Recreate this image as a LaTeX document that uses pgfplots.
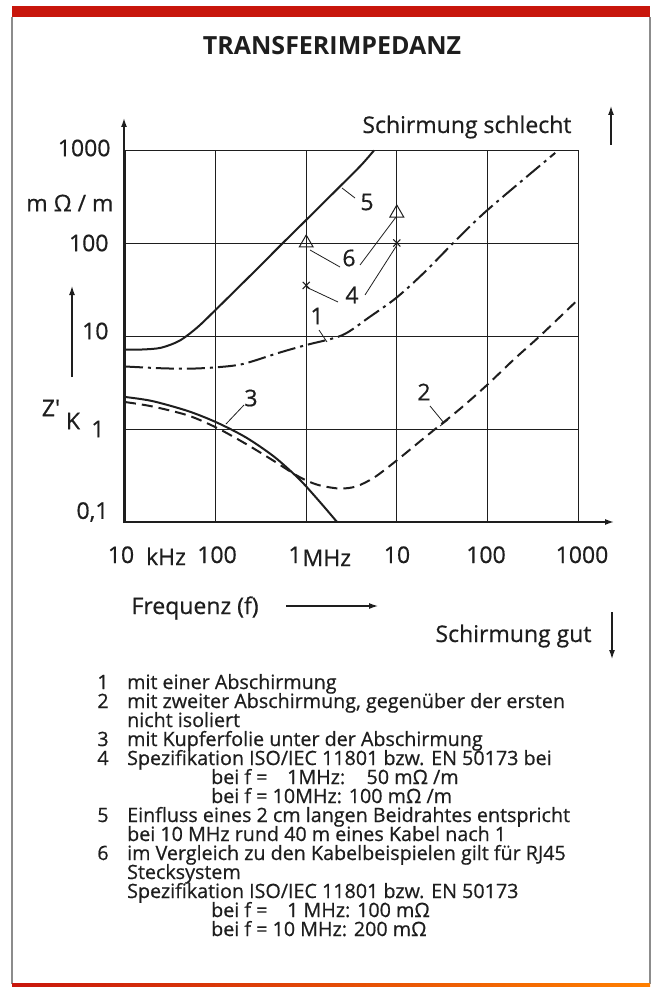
\documentclass[border=0pt]{standalone}
\usepackage{pgfplots}
\pgfplotsset{compat=1.18}
\usepackage{fontspec}
\setmainfont{Open Sans}
\newfontfamily\heavy{Open Sans}[FakeBold=0.6]
\usetikzlibrary{arrows.meta}
\definecolor{barred}{RGB}{200,22,12}
\definecolor{framegray}{RGB}{140,140,140}
\definecolor{ink}{RGB}{30,30,30}
\begin{document}
\begin{tikzpicture}
\begin{axis}[at={(125pt,-522pt)}, anchor=south west, scale only axis,
  width=453pt, height=372pt, xmode=log, ymode=log,
  xmin=1e4, xmax=1e9, ymin=0.1, ymax=1000,
  axis line style={draw=none},
  xtick={1e4,1e5,1e6,1e7,1e8,1e9}, ytick={0.1,1,10,100,1000},
  xticklabels={}, yticklabels={}, tick style={draw=none},
  grid=major, grid style={ink, line width=0.9pt},
  clip=false]
% curve 5
\addplot[ink, line width=2pt, smooth, tension=0.5] coordinates {
 (1e4,7.12) (1.6e4,7.17) (2.5e4,7.48) (4e4,8.9) (6.3e4,12.4) (1e5,19.1) (1.6e5,30) (3e5,55) (5.3e5,96) (1e6,177) (2e6,346) (4e6,680) (5.6e6,990)};
% curve 1
\addplot[ink, line width=2pt, smooth, tension=0.5, dash pattern=on 18pt off 5pt on 3pt off 5pt] coordinates {
 (1e4,4.7) (2.5e4,4.5) (5e4,4.45) (1e5,4.6) (2e5,5.0) (5e5,6.6) (1e6,8.0) (2.5e6,10.2) (5e6,16) (1e7,26) (2e7,48) (4.2e7,100) (1e8,226) (5.6e8,930)};
% curve 2
\addplot[ink, line width=2pt, smooth, tension=0.5, dash pattern=on 11pt off 6pt] coordinates {
 (1e4,1.95) (1.99e4,1.75) (4.95e4,1.40) (1.03e5,1.03) (2.17e5,0.69) (4.4e5,0.453) (7.7e5,0.32) (1.1e6,0.269) (1.5e6,0.244) (2.36e6,0.229) (3.55e6,0.241) (5.6e6,0.30) (1e7,0.46) (2e7,0.8) (5e7,1.65) (1e8,3.0) (2e8,5.7) (3.8e8,10) (9.3e8,23)};
% curve 3
\addplot[ink, line width=2pt, smooth, tension=0.5] coordinates {
 (1e4,2.21) (1.99e4,2.0) (4.95e4,1.56) (1.03e5,1.175) (2.17e5,0.81) (4.4e5,0.506) (7.7e5,0.313) (1e6,0.241) (1.5e6,0.154) (2.19e6,0.1)};
% RJ45 triangles (6)
\addplot[only marks, mark=triangle, mark size=8pt, mark options={ink, line width=1pt}] coordinates {(1e6,100) (1e7,210)};
% spec crosses (4)
\addplot[only marks, mark=x, mark size=5pt, mark options={ink, line width=1pt}] coordinates {(1e6,35) (1e7,100)};
\end{axis}

\begin{scope}[x=1pt,y=-1pt]
\path[use as bounding box] (0,0) rectangle (653,987);
% frame
\fill[barred] (12,6) rectangle (650,17);
\draw[framegray, line width=1.6pt] (12,17) -- (12,984);
\draw[framegray, line width=1.6pt] (650,17) -- (650,984);
\shade[left color=barred, right color=orange] (12,983) rectangle (650,987);
\node[font=\bfseries\fontsize{25}{28}\selectfont, anchor=base, text=ink] at (332,55) {TRANSFERIMPEDANZ};

% axes with arrows
\draw[ink, line width=1.5pt, -{Latex[length=9pt,width=6pt]}] (124,523) -- (124,118);
\draw[ink, line width=1.5pt, -{Latex[length=9pt,width=6pt]}] (123,522) -- (614,522);

% y tick labels
\begin{scope}[every node/.style={font=\heavy\fontsize{23}{25}\selectfont, text=ink}]
\node[anchor=east] at (114,148) {1000};
\node[anchor=east] at (117,203) {m Ω / m};
\node[anchor=east] at (112,243) {100};
\node[anchor=east] at (112,331) {10};
\node[anchor=east] at (108,429) {1};
\node[anchor=east] at (112,512) {0,1};
\node at (51,408) {Z\textquotesingle};
\node at (73,421) {K};
% x tick labels
\node[anchor=base] at (121,563) {10};
\node[anchor=base] at (166,565) {kHz};
\node[anchor=base] at (217,563) {100};
\node[anchor=base] at (295,563) {1};
\node[anchor=base west] at (299,566) {MHz};
\node[anchor=base] at (397,563) {10};
\node[anchor=base] at (486,563) {100};
\node[anchor=base] at (582,563) {1000};
\node[anchor=base west] at (128,614) {Frequenz (f)};
\node[anchor=base east] at (575,133) {Schirmung schlecht};
\node[anchor=base east] at (595,642) {Schirmung gut};
% curve labels
\node at (367,202) {5};
\node at (349,258) {6};
\node at (352,295) {4};
\node at (317,316) {1};
\node at (251,398) {3};
\node at (424,392) {2};
\end{scope}

% side arrows
\draw[ink, line width=1.2pt, -{Latex[length=9pt,width=6pt]}] (72,377) -- (72,286);
\draw[ink, line width=1.2pt, -{Latex[length=9pt,width=6pt]}] (286,606) -- (378,606);
\draw[ink, line width=1.2pt, -{Latex[length=9pt,width=6pt]}] (611,145) -- (611,106);
\draw[ink, line width=1.2pt, -{Latex[length=9pt,width=6pt]}] (612,612) -- (612,659);

% leader lines
\begin{scope}[ink, line width=0.8pt]
\draw (342,188) -- (355,198);
\draw (310,250) -- (340,267);
\draw (360,265) -- (396,217);
\draw (306,287) -- (338,302);
\draw (365,295) -- (397,245);
\draw (319,330) -- (327,342);
\draw (244,405) -- (226,424);
\draw (430,406) -- (444,423);
\draw (440,426) -- (448,420);
\end{scope}

% legend
\begin{scope}[every node/.style={font=\heavy\fontsize{19.7}{19}\selectfont, text=ink, inner sep=0pt}]
\node[anchor=base] at (103,689) {1};
\node[anchor=base west] at (127,689) {mit einer Abschirmung};
\node[anchor=base] at (103,708) {2};
\node[anchor=base west] at (127,708) {mit zweiter Abschirmung, gegenüber der ersten};
\node[anchor=base west] at (127,727) {nicht isoliert};
\node[anchor=base] at (103,746) {3};
\node[anchor=base west] at (127,746) {mit Kupferfolie unter der Abschirmung};
\node[anchor=base] at (103,765) {4};
\node[anchor=base west] at (127,765) {Spezifikation ISO/IEC 11801 bzw. EN 50173 bei};
\node[anchor=base west] at (211,784) {bei f = \hphantom{1}\,1MHz: \hphantom{1}\,50 mΩ /m};
\node[anchor=base west] at (211,803) {bei f = 10MHz: 100 mΩ /m};
\node[anchor=base] at (103,822) {5};
\node[anchor=base west] at (127,822) {Einfluss eines 2 cm langen Beidrahtes entspricht};
\node[anchor=base west] at (127,841) {bei 10 MHz rund 40 m eines Kabel nach 1};
\node[anchor=base] at (103,860) {6};
\node[anchor=base west] at (127,860) {im Vergleich zu den Kabelbeispielen gilt für RJ45};
\node[anchor=base west] at (127,879) {Stecksystem};
\node[anchor=base west] at (127,898) {Spezifikation ISO/IEC 11801 bzw. EN 50173};
\node[anchor=base west] at (211,917) {bei f = \hphantom{1}\,1 MHz: 100 mΩ};
\node[anchor=base west] at (211,936) {bei f = 10 MHz: 200 mΩ};
\end{scope}
\end{scope}
\end{tikzpicture}
\end{document}
